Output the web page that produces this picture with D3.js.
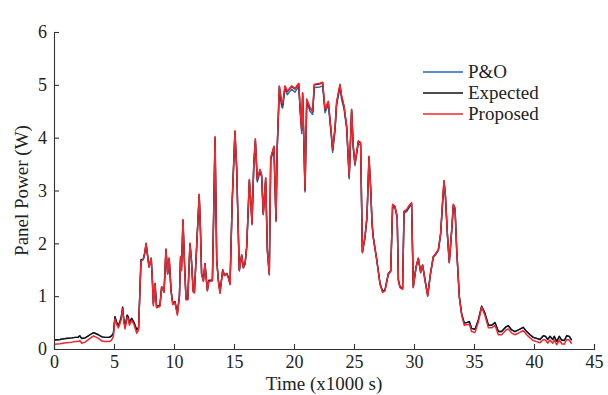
<!DOCTYPE html>
<html>
<head>
<meta charset="utf-8">
<script src="https://cdn.jsdelivr.net/npm/d3@7"></script>
<style>
  body { margin: 0; background: #fff; }
  svg { display: block; }
</style>
</head>
<body>
<svg id="chart"></svg>
<script>
// time in thousands of seconds
const time = [
  0, 0.5, 1.0, 1.5, 1.75, 2.0, 2.15, 2.3, 2.6, 3.0,
  3.3, 3.7, 4.0, 4.25, 4.6, 4.8, 4.95, 5.08, 5.2, 5.36,
  5.5, 5.6, 5.72, 5.82, 5.92, 6.1, 6.2, 6.28, 6.47, 6.67,
  6.9, 7.05, 7.25, 7.44, 7.58, 7.67, 7.78, 7.92, 8.1, 8.2,
  8.28, 8.42, 8.55, 8.83, 8.97, 9.17, 9.33, 9.47, 9.6, 9.75,
  9.9, 10.08, 10.28, 10.45, 10.55, 10.62, 10.75, 10.88, 11.0, 11.15,
  11.33, 11.45, 11.6, 11.7, 11.9, 12.1, 12.2, 12.3, 12.45, 12.58,
  12.78, 12.9, 13.2, 13.3, 13.42, 13.56, 13.7, 13.83, 14.06, 14.2,
  14.4, 14.55, 14.67, 14.85, 15.08, 15.22, 15.44, 15.64, 15.78, 15.92,
  16.06, 16.28, 16.4, 16.5, 16.65, 16.78, 16.94, 17.17, 17.3, 17.44,
  17.64, 17.78, 17.94, 18.06, 18.33, 18.5, 18.6, 18.78, 18.97, 19.06,
  19.25, 19.44, 19.8, 20.08, 20.4, 20.5, 20.64, 20.72, 20.92, 21.06,
  21.33, 21.56, 21.69, 22.17, 22.39, 22.58, 22.86, 23.08, 23.22, 23.42,
  23.55, 23.83, 23.97, 24.17, 24.39, 24.6, 24.8, 24.94, 25.08, 25.36,
  25.55, 25.7, 25.92, 26.08, 26.25, 26.4, 26.5, 26.6, 26.9, 27.17,
  27.39, 27.58, 27.86, 28.06, 28.22, 28.42, 28.6, 28.7, 28.83, 29.05,
  29.17, 29.39, 29.67, 29.8, 29.94, 30.17, 30.36, 30.56, 30.72, 30.92,
  31.14, 31.39, 31.61, 31.83, 32.03, 32.22, 32.36, 32.5, 32.62, 32.78,
  32.94, 33.14, 33.28, 33.42, 33.56, 33.78, 33.97, 34.19, 34.39, 34.61,
  34.8, 35.08, 35.36, 35.64, 35.92, 36.2, 36.47, 36.75, 37.03, 37.3,
  37.67, 37.86, 38.14, 38.42, 38.78, 39.11, 39.39, 39.67, 39.94, 40.22,
  40.5, 40.78, 40.97, 41.14, 41.33, 41.56, 41.69, 41.89, 42.11, 42.31,
  42.53, 42.72, 42.94, 43.14
]

const pAndO = [
  0.17, 0.18, 0.20, 0.21, 0.22, 0.22, 0.25, 0.20, 0.21, 0.27,
  0.31, 0.27, 0.23, 0.22, 0.22, 0.25, 0.30, 0.61, 0.52, 0.44,
  0.52, 0.60, 0.79, 0.55, 0.42, 0.64, 0.60, 0.49, 0.58, 0.50,
  0.36, 0.41, 1.67, 1.69, 1.82, 1.98, 1.80, 1.55, 1.70, 1.29,
  0.85, 1.22, 0.79, 0.82, 1.16, 1.08, 1.87, 1.42, 1.70, 1.11,
  0.85, 0.89, 0.67, 0.99, 1.73, 1.49, 2.41, 1.58, 0.95, 0.94,
  1.98, 1.68, 1.09, 1.07, 1.98, 2.89, 2.28, 1.42, 1.29, 1.60,
  1.11, 1.29, 1.29, 2.47, 3.96, 1.67, 1.29, 1.07, 1.48, 1.39,
  1.42, 1.34, 1.23, 2.77, 4.08, 3.41, 1.48, 1.76, 1.53, 1.60,
  1.92, 3.16, 2.77, 2.35, 3.46, 3.92, 3.16, 3.35, 3.26, 2.54,
  3.19, 1.86, 1.41, 3.57, 3.79, 2.41, 3.76, 4.92, 4.58, 4.56,
  4.93, 4.81, 4.92, 4.86, 4.97, 4.53, 4.08, 4.79, 2.97, 4.66,
  4.50, 4.44, 4.95, 4.96, 4.98, 4.47, 4.62, 4.10, 3.72, 4.13,
  4.61, 4.95, 4.72, 4.54, 4.16, 3.22, 4.48, 3.79, 3.47, 3.89,
  3.86, 1.82, 2.11, 2.47, 3.60, 2.97, 2.37, 2.11, 1.67, 1.23,
  1.08, 1.11, 1.41, 1.46, 2.70, 2.66, 2.47, 1.29, 1.17, 1.14,
  2.57, 2.60, 2.70, 2.73, 1.17, 1.54, 1.70, 1.44, 1.57, 1.30,
  1.01, 1.44, 1.73, 1.79, 1.86, 2.16, 2.67, 3.14, 2.87, 2.16,
  1.63, 2.22, 2.70, 2.63, 1.86, 0.98, 0.66, 0.49, 0.50, 0.52,
  0.39, 0.37, 0.55, 0.81, 0.67, 0.45, 0.45, 0.50, 0.33, 0.33,
  0.42, 0.44, 0.36, 0.33, 0.37, 0.41, 0.33, 0.27, 0.22, 0.20,
  0.18, 0.25, 0.24, 0.18, 0.24, 0.18, 0.24, 0.14, 0.24, 0.17,
  0.16, 0.25, 0.24, 0.17
]

const expected = [
  0.17, 0.18, 0.20, 0.21, 0.22, 0.22, 0.25, 0.20, 0.21, 0.27,
  0.31, 0.27, 0.23, 0.22, 0.22, 0.25, 0.30, 0.61, 0.52, 0.44,
  0.52, 0.60, 0.79, 0.55, 0.42, 0.64, 0.60, 0.49, 0.58, 0.50,
  0.36, 0.41, 1.69, 1.70, 1.84, 2.00, 1.81, 1.56, 1.72, 1.30,
  0.86, 1.24, 0.80, 0.83, 1.18, 1.09, 1.89, 1.43, 1.72, 1.12,
  0.86, 0.90, 0.68, 1.00, 1.75, 1.50, 2.44, 1.60, 0.96, 0.95,
  2.00, 1.70, 1.10, 1.08, 2.00, 2.92, 2.30, 1.43, 1.30, 1.62,
  1.12, 1.30, 1.30, 2.50, 4.00, 1.69, 1.30, 1.08, 1.50, 1.40,
  1.43, 1.35, 1.24, 2.80, 4.12, 3.45, 1.50, 1.78, 1.55, 1.62,
  1.94, 3.20, 2.80, 2.38, 3.50, 3.96, 3.20, 3.39, 3.30, 2.57,
  3.23, 1.88, 1.43, 3.61, 3.83, 2.44, 3.80, 4.97, 4.65, 4.62,
  4.97, 4.87, 4.97, 4.92, 5.02, 4.59, 4.15, 4.84, 3.01, 4.72,
  4.56, 4.49, 5.00, 5.02, 5.04, 4.53, 4.68, 4.15, 3.77, 4.18,
  4.66, 5.00, 4.78, 4.59, 4.21, 3.26, 4.53, 3.83, 3.51, 3.93,
  3.90, 1.84, 2.13, 2.50, 3.64, 3.00, 2.40, 2.13, 1.69, 1.24,
  1.09, 1.12, 1.43, 1.48, 2.73, 2.69, 2.50, 1.31, 1.18, 1.15,
  2.60, 2.63, 2.73, 2.76, 1.18, 1.56, 1.72, 1.46, 1.59, 1.31,
  1.02, 1.46, 1.75, 1.81, 1.88, 2.19, 2.70, 3.18, 2.90, 2.19,
  1.65, 2.25, 2.73, 2.66, 1.88, 0.99, 0.67, 0.49, 0.50, 0.52,
  0.39, 0.37, 0.55, 0.81, 0.67, 0.45, 0.45, 0.50, 0.33, 0.33,
  0.42, 0.44, 0.36, 0.33, 0.37, 0.41, 0.33, 0.27, 0.22, 0.20,
  0.18, 0.25, 0.24, 0.18, 0.24, 0.18, 0.24, 0.14, 0.24, 0.17,
  0.16, 0.25, 0.24, 0.17
]

const proposed = [
  0.09, 0.10, 0.12, 0.13, 0.14, 0.14, 0.16, 0.11, 0.13, 0.20,
  0.25, 0.20, 0.15, 0.14, 0.14, 0.17, 0.24, 0.57, 0.48, 0.40,
  0.48, 0.56, 0.76, 0.51, 0.38, 0.60, 0.56, 0.45, 0.54, 0.46,
  0.30, 0.36, 1.66, 1.70, 1.84, 2.00, 1.80, 1.55, 1.72, 1.28,
  0.82, 1.24, 0.78, 0.81, 1.18, 1.07, 1.89, 1.42, 1.72, 1.10,
  0.84, 0.88, 0.64, 0.98, 1.75, 1.48, 2.45, 1.58, 0.93, 0.93,
  2.00, 1.69, 1.08, 1.06, 2.00, 2.93, 2.29, 1.41, 1.28, 1.61,
  1.10, 1.28, 1.29, 2.50, 4.02, 1.68, 1.28, 1.05, 1.49, 1.39,
  1.42, 1.33, 1.22, 2.80, 4.13, 3.45, 1.48, 1.78, 1.54, 1.61,
  1.94, 3.21, 2.80, 2.37, 3.51, 3.98, 3.21, 3.40, 3.30, 2.55,
  3.24, 1.86, 1.40, 3.62, 3.84, 2.43, 3.81, 4.98, 4.67, 4.64,
  4.98, 4.88, 4.98, 4.93, 5.03, 4.60, 4.16, 4.85, 3.02, 4.73,
  4.57, 4.50, 5.01, 5.03, 5.05, 4.54, 4.69, 4.16, 3.78, 4.19,
  4.67, 5.01, 4.79, 4.60, 4.22, 3.26, 4.54, 3.84, 3.51, 3.94,
  3.91, 1.83, 2.13, 2.50, 3.65, 3.00, 2.40, 2.12, 1.68, 1.22,
  1.07, 1.10, 1.42, 1.47, 2.74, 2.70, 2.50, 1.30, 1.16, 1.13,
  2.61, 2.64, 2.74, 2.77, 1.16, 1.55, 1.72, 1.45, 1.59, 1.29,
  1.00, 1.45, 1.75, 1.81, 1.88, 2.19, 2.71, 3.19, 2.90, 2.18,
  1.64, 2.25, 2.74, 2.67, 1.87, 0.97, 0.64, 0.45, 0.46, 0.47,
  0.33, 0.31, 0.51, 0.79, 0.63, 0.40, 0.40, 0.45, 0.27, 0.27,
  0.36, 0.38, 0.30, 0.27, 0.31, 0.35, 0.27, 0.21, 0.16, 0.14,
  0.12, 0.18, 0.17, 0.11, 0.17, 0.11, 0.17, 0.08, 0.17, 0.10,
  0.09, 0.18, 0.17, 0.10
]

const seriesNames = ['P&O', 'Expected', 'Proposed']
const seriesColors = ['#2d62c0', '#111111', '#f2262b']
const xTicks = [0, 5, 10, 15, 20, 25, 30, 35, 40, 45]
const yTicks = [0, 1, 2, 3, 4, 5, 6]

const width = 608
const height = 395
const margin = { top: 32, right: 14, bottom: 46, left: 54 }
const font = '"Liberation Serif", "DejaVu Serif", serif'
const axisColor = '#333'

const svg = d3.select('#chart')
  .attr('width', width)
  .attr('height', height)

const x = d3.scaleLinear()
  .domain([0, 45])
  .range([margin.left, width - margin.right])

const y = d3.scaleLinear()
  .domain([0, 6])
  .range([height - margin.bottom, margin.top])

const series = [pAndO, expected, proposed]

const line = d3.line()
  .x((d, i) => x(time[i]))
  .y(d => y(d))

svg.append('g')
  .selectAll('path')
  .data(series)
  .enter()
  .append('path')
  .attr('d', d => line(d))
  .attr('fill', 'none')
  .attr('stroke', (d, i) => seriesColors[i])
  .attr('stroke-width', (d, i) => i === 2 ? 1.5 : 1.4)
  .attr('stroke-linejoin', 'round')

// axes: major ticks pointing into the plot, small minor ticks
const xAxis = svg.append('g')
  .attr('transform', `translate(0, ${y(0)})`)
  .call(d3.axisBottom(x).tickValues(d3.range(0, 46, 1)).tickSize(-2).tickFormat(''))
xAxis.call(d3.axisBottom(x).tickValues(xTicks).tickSize(-5).tickPadding(6).tickFormat(d3.format('d')))

const yAxis = svg.append('g')
  .attr('transform', `translate(${x(0)}, 0)`)
  .call(d3.axisLeft(y).tickValues(d3.range(0, 6.01, 0.2)).tickSize(-2).tickFormat(''))
yAxis.call(d3.axisLeft(y).tickValues(yTicks).tickSize(-5).tickPadding(7).tickFormat(d3.format('d')))

svg.selectAll('.domain, .tick line')
  .attr('stroke', axisColor)
  .attr('stroke-width', 1.1)

svg.selectAll('.tick text')
  .attr('fill', '#222')
  .style('font-family', font)
  .style('font-size', '18px')

svg.append('text')
  .attr('x', (x(0) + x(45)) / 2)
  .attr('y', 390)
  .attr('text-anchor', 'middle')
  .attr('fill', '#222')
  .style('font-family', font)
  .style('font-size', '19px')
  .text('Time (x1000 s)')

svg.append('text')
  .attr('transform', `translate(28, ${(y(0) + y(6)) / 2}) rotate(-90)`)
  .attr('text-anchor', 'middle')
  .attr('fill', '#222')
  .style('font-family', font)
  .style('font-size', '19px')
  .text('Panel Power (W)')

const legend = svg.append('g')
  .attr('transform', 'translate(423, 72)')

legend.selectAll('.legend-item')
  .data(seriesNames)
  .enter()
  .append('g')
  .attr('class', 'legend-item')
  .attr('transform', (d, i) => `translate(0, ${i * 21})`)
  .each(function (d, i) {
    const item = d3.select(this)
    item.append('line')
      .attr('x1', 0)
      .attr('x2', 40)
      .attr('stroke', seriesColors[i])
      .attr('stroke-width', 1.5)
    item.append('text')
      .attr('x', 45)
      .attr('dy', '0.33em')
      .attr('fill', '#222')
      .style('font-family', font)
      .style('font-size', '19px')
      .text(d)
  })
</script>
</body>
</html>
